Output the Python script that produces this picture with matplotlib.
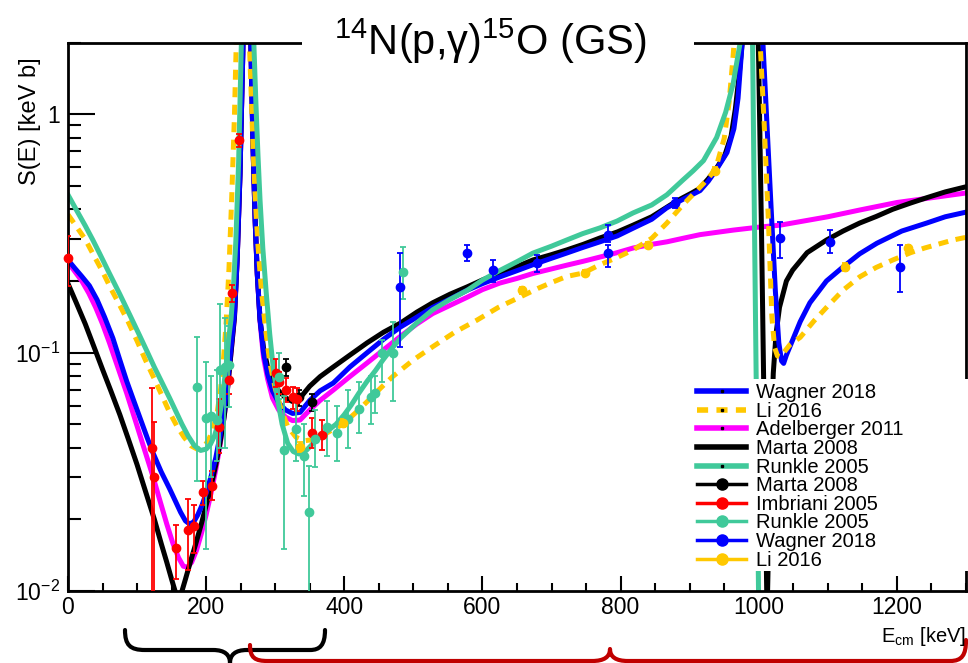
import numpy as np
import matplotlib
matplotlib.use('Agg')
import matplotlib.pyplot as plt
from matplotlib.lines import Line2D
from matplotlib.patches import Rectangle, PathPatch
from matplotlib.path import Path
from matplotlib.ticker import FixedLocator, FixedFormatter, MultipleLocator

plt.rcParams['font.family'] = ['Liberation Sans', 'DejaVu Sans']
plt.rcParams['mathtext.fontset'] = 'custom'
plt.rcParams['mathtext.rm'] = 'Liberation Sans'
plt.rcParams['mathtext.it'] = 'Liberation Sans:italic'

# ---- fits (E_cm in keV, S in keV b) ----
black_e = [0, 12, 25, 37, 50, 62, 75, 87, 100, 112, 125, 135, 143, 150, 155, 160, 165, 170, 177, 185, 193, 200, 207,
           214, 220, 226, 231, 236, 241, 245, 249, 253, 256, 259, 262, 265, 268, 271, 274, 278, 283, 289, 296, 305,
           315, 325, 336, 350, 365, 384, 408, 433, 457, 481, 505, 528, 553, 578, 600, 625, 650, 673, 698, 722, 746,
           770, 795, 818, 845, 867, 880, 890, 903, 915, 927, 939, 951, 960, 966, 971, 976, 985, 992, 997, 1000, 1004,
           1008, 1012, 1015, 1018, 1021, 1025, 1030, 1040, 1049, 1070, 1098, 1122, 1146, 1170, 1194, 1220, 1243,
           1270, 1300]
black_s = [0.195, 0.162, 0.132, 0.107, 0.0851, 0.0692, 0.055, 0.0437, 0.0339, 0.0263, 0.02, 0.0158, 0.0132, 0.0112,
           0.01, 0.0093, 0.01, 0.0112, 0.0132, 0.0158, 0.0191, 0.0229, 0.0275, 0.0339, 0.0417, 0.0537, 0.0708, 0.1,
           0.141, 0.251, 0.562, 1.78, 6.31, 31.6, 6.31, 1.78, 0.708, 0.355, 0.214, 0.138, 0.105, 0.0871, 0.0759,
           0.0692, 0.0646, 0.0624, 0.0646, 0.0724, 0.0794, 0.0871, 0.0977, 0.11, 0.122, 0.133, 0.148, 0.162, 0.176,
           0.189, 0.202, 0.216, 0.23, 0.245, 0.257, 0.27, 0.285, 0.303, 0.321, 0.343, 0.372, 0.408, 0.431, 0.447,
           0.468, 0.49, 0.537, 0.596, 0.676, 0.813, 1.05, 1.41, 2.0, 10.0, 15.8, 3.98, 1.58, 0.316, 0.05, 0.0079,
           0.02, 0.0447, 0.082, 0.12, 0.155, 0.2, 0.222, 0.263, 0.297, 0.324, 0.35, 0.373, 0.4, 0.425, 0.447, 0.473,
           0.497]

blue_e = [0, 10, 20, 31, 42, 53, 65, 75, 85, 95, 105, 115, 123, 135, 147, 155, 163, 170, 176, 182, 188, 194, 200, 207,
          214, 220, 226, 231, 236, 241, 245, 249, 253, 256, 259, 262, 265, 268, 271, 274, 278, 283, 289, 296, 305, 315,
          325, 336, 350, 365, 384, 408, 433, 457, 481, 505, 528, 553, 578, 600, 625, 650, 673, 698, 722, 746, 770,
          795, 818, 845, 867, 890, 903, 915, 927, 939, 954, 964, 970, 976, 985, 995, 1006, 1012, 1018, 1024, 1029,
          1033, 1036, 1040, 1049, 1060, 1074, 1098, 1122, 1146, 1171, 1207, 1243, 1270, 1300]
blue_s = [0.245, 0.226, 0.209, 0.191, 0.167, 0.141, 0.115, 0.0933, 0.0759, 0.0631, 0.0525, 0.0437, 0.038, 0.0316,
          0.0269, 0.024, 0.0214, 0.0197, 0.0191, 0.0195, 0.0209, 0.0229, 0.0257, 0.0302, 0.0363, 0.0447, 0.0575,
          0.0759, 0.105, 0.145, 0.251, 0.562, 1.78, 6.31, 31.6, 6.31, 1.78, 0.708, 0.355, 0.214, 0.138, 0.1, 0.0813,
          0.0692, 0.0617, 0.0575, 0.0556, 0.0562, 0.0631, 0.0692, 0.0746, 0.0871, 0.1, 0.114, 0.128, 0.141, 0.155,
          0.168, 0.183, 0.195, 0.208, 0.221, 0.234, 0.248, 0.262, 0.277, 0.292, 0.309, 0.333, 0.363, 0.406, 0.44,
          0.46, 0.479, 0.525, 0.589, 0.692, 0.871, 1.17, 2.0, 6.31, 5.01, 2.0, 0.891, 0.398, 0.182, 0.11, 0.0923,
          0.0902, 0.0977, 0.113, 0.135, 0.162, 0.2, 0.229, 0.26, 0.288, 0.324, 0.35, 0.372, 0.389]

magenta_e = [0, 10, 20, 30, 40, 50, 60, 72, 85, 97, 110, 122, 133, 143, 152, 160, 167, 173, 179, 186, 193, 200, 207,
             214, 220, 226, 231, 236, 241, 245, 249, 253, 256, 259, 262, 265, 268, 271, 274, 278, 283, 289, 296, 305,
             315, 325, 336, 350, 365, 384, 408, 433, 457, 481, 505, 528, 553, 578, 600, 625, 650, 673, 698, 722, 746,
             770, 795, 818, 845, 867, 890, 915, 963, 1002, 1031, 1100, 1146, 1200, 1250, 1300]
magenta_s = [0.24, 0.219, 0.2, 0.178, 0.155, 0.132, 0.11, 0.0871, 0.0676, 0.0525, 0.0398, 0.0309, 0.024, 0.0191,
             0.0158, 0.0138, 0.0127, 0.0126, 0.0132, 0.0148, 0.0174, 0.0209, 0.0257, 0.0324, 0.0407, 0.0537, 0.0708,
             0.1, 0.141, 0.251, 0.562, 1.78, 6.31, 31.6, 6.31, 1.78, 0.708, 0.355, 0.214, 0.135, 0.0955, 0.0776,
             0.0646, 0.0575, 0.0537, 0.0519, 0.0522, 0.0575, 0.0631, 0.0697, 0.0794, 0.0906, 0.103, 0.117, 0.132,
             0.146, 0.158, 0.171, 0.184, 0.196, 0.205, 0.215, 0.224, 0.233, 0.242, 0.252, 0.263, 0.275, 0.285, 0.292,
             0.302, 0.313, 0.327, 0.337, 0.343, 0.372, 0.397, 0.427, 0.447, 0.468]

green_e = [0, 12, 25, 36, 46, 60, 75, 90, 104, 115, 125, 136, 147, 156, 165, 174, 183, 192, 200, 206, 212, 217, 222,
           226, 230, 233, 236, 240, 243, 247, 251, 255, 259, 263, 266, 269, 272, 275, 278, 282, 287, 292, 297, 303,
           310, 318, 326, 334, 345, 355, 365, 375, 388, 400, 410, 421, 433, 445, 456, 468, 481, 505, 528, 552, 578,
           600, 625, 650, 673, 700, 722, 745, 770, 795, 818, 845, 867, 890, 905, 920, 939, 952, 963, 973, 979, 984,
           988, 991, 994, 997, 1000]
green_s = [0.46, 0.398, 0.341, 0.297, 0.26, 0.215, 0.176, 0.143, 0.1175, 0.1005, 0.087, 0.075, 0.0646, 0.0569, 0.0501,
           0.0447, 0.0407, 0.0389, 0.0394, 0.0412, 0.0447, 0.0501, 0.0603, 0.0741, 0.0955, 0.1175, 0.138, 0.2,
           0.295, 0.63, 2.0, 6.3, 31.6, 7.94, 3.55, 2.0, 1.12, 0.676, 0.437, 0.275, 0.178, 0.12, 0.087, 0.0646,
           0.0501, 0.0417, 0.0385, 0.0376, 0.0389, 0.0417, 0.0452, 0.0468, 0.0501, 0.055, 0.0603, 0.0676, 0.0759,
           0.0841, 0.0933, 0.1035, 0.1148, 0.1334, 0.1514, 0.1667, 0.1828, 0.2018, 0.2213, 0.241, 0.2618, 0.28,
           0.2972, 0.316, 0.334, 0.357, 0.386, 0.417, 0.46, 0.53, 0.58, 0.64, 0.8, 1.02, 1.35, 2.0, 4.5, 7.0, 5.0,
           2.0, 0.3, 0.05, 0.008]

gold_e = [0, 12, 25, 37, 50, 62, 75, 87, 100, 112, 125, 136, 147, 158, 168, 178, 187, 195, 203, 210, 216, 221, 225,
          229, 233, 237, 241, 244, 247, 251, 255, 259, 262, 265, 268, 271, 275, 280, 286, 292, 300, 309, 318, 330,
          342, 355, 370, 385, 398, 417, 435, 452, 470, 500, 528, 560, 592, 623, 654, 680, 700, 722, 746, 770, 795,
          818, 845, 867, 890, 905, 920, 937, 950, 957, 963, 968, 975, 985, 995, 1002, 1008, 1014, 1019, 1023, 1027,
          1031, 1036, 1045, 1060, 1080, 1099, 1122, 1146, 1170, 1194, 1220, 1240, 1281, 1300]
gold_s = [0.38, 0.339, 0.299, 0.257, 0.219, 0.186, 0.158, 0.135, 0.112, 0.0933, 0.0776, 0.0661, 0.0562, 0.049, 0.0442,
          0.0407, 0.0394, 0.0398, 0.0427, 0.0479, 0.0562, 0.0708, 0.0933, 0.135, 0.224, 0.447, 1.0, 2.24, 6.31,
          31.6, 10.0, 3.98, 2.24, 1.26, 0.708, 0.447, 0.282, 0.182, 0.126, 0.0912, 0.0708, 0.0575, 0.049, 0.0442,
          0.0427, 0.0432, 0.0452, 0.0479, 0.0501, 0.0562, 0.0631, 0.0708, 0.0794, 0.0933, 0.106, 0.122, 0.137,
          0.155, 0.171, 0.186, 0.197, 0.209, 0.216, 0.234, 0.251, 0.27, 0.302, 0.35, 0.417, 0.462, 0.513, 0.585,
          0.794, 1.12, 1.78, 2.82, 6.31, 5.01, 3.16, 2.0, 0.891, 0.355, 0.141, 0.105, 0.097, 0.096, 0.1, 0.108,
          0.116, 0.136, 0.156, 0.183, 0.208, 0.228, 0.245, 0.263, 0.275, 0.297, 0.305]

# ---- data points ----
marta_e = [315, 334, 353]
marta_s = [0.087, 0.065, 0.062]
marta_err = [0.007, 0.005, 0.005]

imb_e = [0, 121, 125, 157, 173, 183, 195, 209, 219, 233, 238, 248, 301, 305, 315, 325, 331, 353, 367]
imb_s = [0.25, 0.040, 0.030, 0.0152, 0.018, 0.0187, 0.026, 0.0275, 0.049, 0.077, 0.178, 0.78, 0.082, 0.075, 0.07,
         0.065, 0.064, 0.046, 0.045]
imb_lo = [0.06, 0.037, 0.027, 0.004, 0.0057, 0.0042, 0.003, 0.0035, 0.011, 0.01, 0.015, 0.05, 0.01, 0.008, 0.008,
          0.007, 0.007, 0.006, 0.006]
imb_hi = [0.06, 0.031, 0.021, 0.0038, 0.0063, 0.0043, 0.003, 0.0045, 0.015, 0.01, 0.015, 0.05, 0.012, 0.008, 0.008,
          0.007, 0.007, 0.007, 0.007]

runkle_e = [187, 200, 207, 215, 220, 227, 233, 305, 313, 330, 341, 349, 358, 375, 389, 406, 421, 438, 445, 454, 471, 485]
runkle_s = [0.072, 0.053, 0.054, 0.052, 0.085, 0.087, 0.089, 0.079, 0.039, 0.048, 0.037, 0.0214, 0.0433, 0.049, 0.046,
            0.0525, 0.058, 0.065, 0.068, 0.100, 0.100, 0.218]
runkle_lo = [0.043, 0.038, 0.024, 0.017, 0.045, 0.047, 0.03, 0.015, 0.024, 0.013, 0.012, 0.018, 0.010, 0.012, 0.011,
             0.0125, 0.012, 0.015, 0.012, 0.025, 0.0375, 0.05]
runkle_hi = [0.044, 0.038, 0.026, 0.033, 0.075, 0.053, 0.04, 0.021, 0.027, 0.018, 0.013, 0.012, 0.014, 0.014, 0.014,
             0.0175, 0.017, 0.015, 0.012, 0.013, 0.035, 0.059]

wag_e = [481, 578, 615, 679, 782, 782, 879, 1031, 1103, 1204]
wag_s = [0.189, 0.262, 0.222, 0.238, 0.312, 0.262, 0.425, 0.303, 0.291, 0.229]
wag_lo = [0.083, 0.02, 0.023, 0.02, 0.02, 0.033, 0.02, 0.053, 0.029, 0.049]
wag_hi = [0.073, 0.02, 0.023, 0.02, 0.031, 0.02, 0.02, 0.05, 0.036, 0.054]

li_e = [336, 398, 657, 748, 840, 937, 1125, 1216]
li_s = [0.0402, 0.0507, 0.183, 0.216, 0.283, 0.58, 0.229, 0.275]
li_err = [0.002, 0.002, 0.006, 0.007, 0.009, 0.02, 0.008, 0.009]

BLUE = '#0000ff'
GOLD = '#ffc800'
MAG = '#ff00ff'
GREEN = '#40c99a'
RED = '#ff0000'

W, H = 968, 663
fig = plt.figure(figsize=(W / 100, H / 100), dpi=100)
ax = fig.add_axes([68 / W, 72 / H, 898 / W, 548.3 / H])

lw = 3.6
ax.plot(magenta_e, magenta_s, color=MAG, lw=lw, zorder=2)
ax.plot(black_e, black_s, color='k', lw=lw, zorder=2.1)
ax.plot(blue_e, blue_s, color=BLUE, lw=lw, zorder=2.2)
ax.plot(gold_e, gold_s, color=GOLD, lw=lw, ls=(0, (2.0, 1.5)), zorder=2.3)
ax.plot(green_e, green_s, color=GREEN, lw=lw, zorder=2.4)

def points(e, s, lo, hi, c):
    art = ax.errorbar(e, s, yerr=[lo, hi], fmt='o', color=c, ms=6, lw=1.3, capsize=2, capthick=1.3, zorder=6)
    art[0].set_clip_on(False)

points(marta_e, marta_s, marta_err, marta_err, 'k')
points(imb_e, imb_s, imb_lo, imb_hi, RED)
points(runkle_e, runkle_s, runkle_lo, runkle_hi, GREEN)
points(wag_e, wag_s, wag_lo, wag_hi, BLUE)
points(li_e, li_s, li_err, li_err, GOLD)

ax.set_yscale('log')
ax.set_xlim(0, 1300)
ax.set_ylim(0.01, 2.0)

ax.xaxis.set_major_locator(MultipleLocator(200))
ax.xaxis.set_minor_locator(MultipleLocator(50))
ax.yaxis.set_major_locator(FixedLocator([0.01, 0.1, 1]))
ax.yaxis.set_major_formatter(FixedFormatter(['$10^{-2}$', '$10^{-1}$', '1']))
ax.yaxis.set_minor_locator(FixedLocator([k * 10.0 ** p for p in (-2, -1, 0) for k in range(2, 10)]))
ax.yaxis.set_minor_formatter(FixedFormatter([]))

ax.tick_params(axis='x', which='major', direction='in', length=10.8, width=1.5, labelsize=16.5, pad=3.5)
ax.tick_params(axis='x', which='minor', direction='in', length=5.8, width=1.5)
ax.tick_params(axis='y', which='major', direction='in', length=19.4, width=1.5, labelsize=16.5, pad=6)
ax.tick_params(axis='y', which='minor', direction='in', length=9.4, width=1.5)
for sp in ax.spines.values():
    sp.set_linewidth(2)

# legend (white box without frame, hides the right edge)
ax.add_patch(Rectangle((0.693, 0.037), 0.33, 0.35, transform=ax.transAxes, facecolor='white',
                       edgecolor='none', zorder=4.5, clip_on=False))
handles = [
    Line2D([], [], color=BLUE, lw=4, marker='s', ms=1.5, mfc='k', mec='k'),
    Line2D([], [], color=GOLD, lw=4, ls=(0, (2.0, 1.5)), marker='s', ms=1.5, mfc='k', mec='k'),
    Line2D([], [], color=MAG, lw=4, marker='s', ms=1.5, mfc='k', mec='k'),
    Line2D([], [], color='k', lw=4),
    Line2D([], [], color=GREEN, lw=4, marker='s', ms=1.5, mfc='k', mec='k'),
    Line2D([], [], color='k', lw=2.5, marker='o', ms=8),
    Line2D([], [], color=RED, lw=2.5, marker='o', ms=8),
    Line2D([], [], color=GREEN, lw=2.5, marker='o', ms=8),
    Line2D([], [], color=BLUE, lw=2.5, marker='o', ms=8),
    Line2D([], [], color=GOLD, lw=2.5, marker='o', ms=8),
]
labels = ['Wagner 2018', 'Li 2016', 'Adelberger 2011', 'Marta 2008', 'Runkle 2005',
          'Marta 2008', 'Imbriani 2005', 'Runkle 2005', 'Wagner 2018', 'Li 2016']
leg = ax.legend(handles, labels, loc='upper left', bbox_to_anchor=(0.7005, 0.379), frameon=False,
                fontsize=14.5, handlelength=2.45, handletextpad=0.5, labelspacing=-0.02,
                borderpad=0, borderaxespad=0)
leg.set_zorder(5)

# title in a white box over the top frame
fig.add_artist(Rectangle((302 / W, (H - 52) / H), (694 - 302) / W, 52 / H, transform=fig.transFigure,
                         facecolor='white', edgecolor='none', zorder=2))
fig.text(490 / W, (H - 55) / H, '$^{14}$N(p,γ)$^{15}$O (GS)', ha='center', va='baseline', fontsize=30, zorder=3)

fig.text(30 / W, (H - 57) / H, 'S(E) [keV b]', rotation=90, ha='center', va='top', fontsize=17)
fig.text(966 / W, (H - 637) / H, 'E$_{\\rm cm}$ [keV]', ha='right', va='center', fontsize=14.5)

# braces below the axis
def brace(pts, codes, color):
    verts = [(x / W, (H - y) / H) for x, y in pts]
    fig.add_artist(PathPatch(Path(verts, codes), transform=fig.transFigure, facecolor='none',
                             edgecolor=color, lw=3, capstyle='round', joinstyle='round'))

M, L, C = Path.MOVETO, Path.LINETO, Path.CURVE4
brace([(125, 630), (125, 645), (130, 650), (145, 650), (213, 650), (225, 650), (230, 655), (230, 663),
       (230, 655), (235, 650), (247, 650), (310, 650), (320, 650), (325, 645), (325, 630)],
      [M, C, C, C, L, C, C, C, C, C, C, L, C, C, C], 'k')
brace([(250, 645), (250, 658), (255, 661), (268, 661), (592, 661), (604, 661), (610, 657), (610, 649),
       (610, 657), (616, 661), (628, 661), (950, 661), (962, 661), (966, 655), (966, 640)],
      [M, C, C, C, L, C, C, C, C, C, C, L, C, C, C], '#c00000')

fig.savefig('out.png', dpi=100)
